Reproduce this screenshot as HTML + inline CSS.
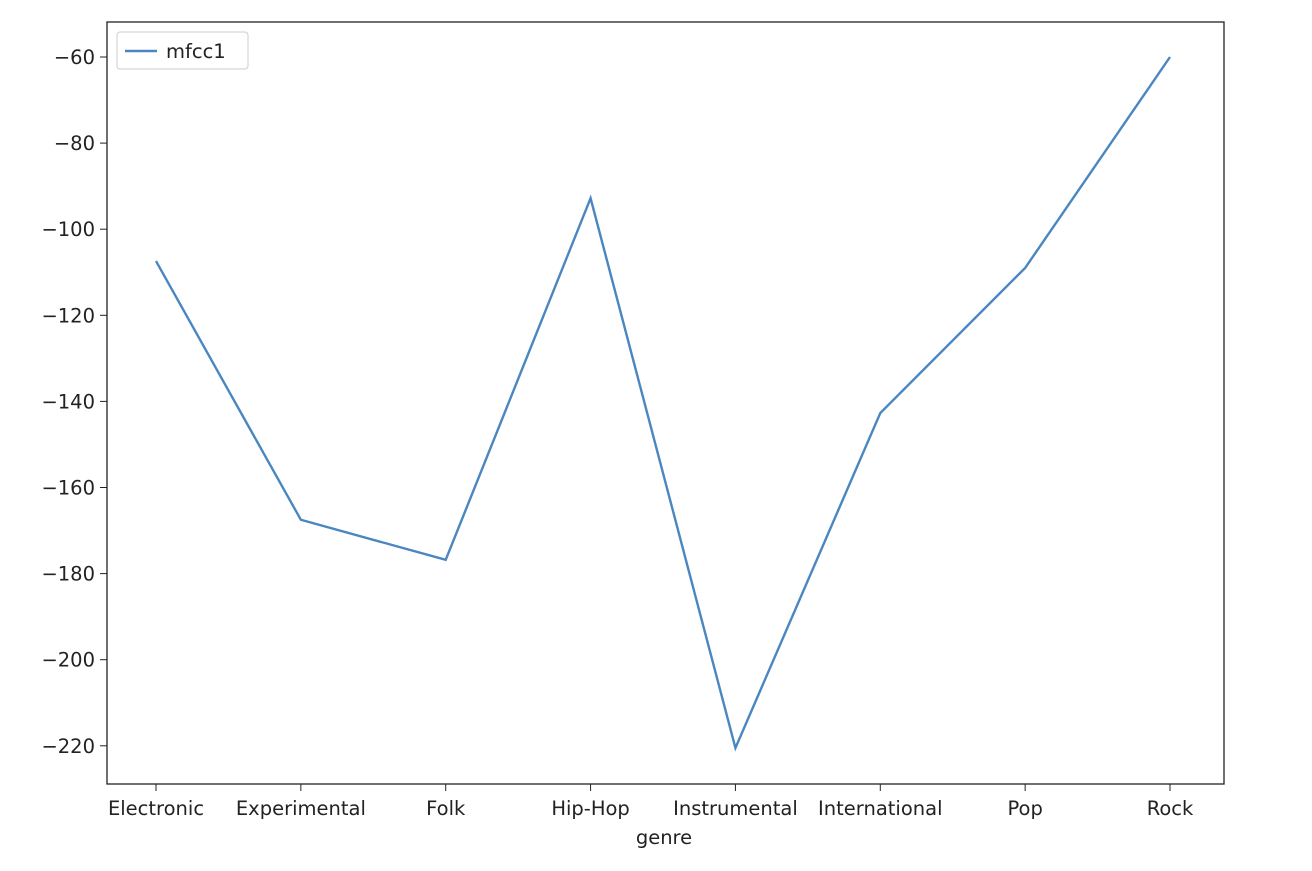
<!DOCTYPE html>
<html><head><meta charset="utf-8"><style>
body{margin:0;background:#fff;}
svg text{font-family:"DejaVu Sans","Liberation Sans",sans-serif;font-size:19.5px;fill:#222;}
</style></head><body>
<svg id="chart" width="1312" height="866" xmlns="http://www.w3.org/2000/svg">
<rect x="0" y="0" width="1312" height="866" fill="#fff"/>
<g id="yticks"></g><g id="xticks"></g>
<polyline id="line" fill="none" stroke="#4a86c0" stroke-width="2.4"/>
<rect x="107" y="22" width="1117" height="762" fill="none" stroke="#222" stroke-width="1.3"/>
<text x="664" y="844" text-anchor="middle">genre</text>
<g>
<rect x="117" y="32" width="131" height="37" rx="3" fill="#fff" stroke="#ccc"/>
<line x1="125" y1="51" x2="157" y2="51" stroke="#4a86c0" stroke-width="2.4"/>
<text x="166" y="58">mfcc1</text>
</g>
</svg>
<script>
const categories=["Electronic","Experimental","Folk","Hip-Hop","Instrumental","International","Pop","Rock"];
const mfcc1=[-107.4,-167.5,-176.8,-92.8,-220.5,-142.7,-109,-60];
const yTicks=[-60,-80,-100,-120,-140,-160,-180,-200,-220];
const NS="http://www.w3.org/2000/svg";
function xS(i){return 156+i*(1170-156)/(categories.length-1);}
function yS(v){return 57+(-60-v)*4.305;}
const yg=document.getElementById('yticks'),xg=document.getElementById('xticks');
yTicks.forEach(t=>{
 const l=document.createElementNS(NS,'line');
 l.setAttribute('x1',100);l.setAttribute('x2',107);l.setAttribute('y1',yS(t));l.setAttribute('y2',yS(t));l.setAttribute('stroke','#222');
 
 
 yg.appendChild(l);
 const tx=document.createElementNS(NS,'text');
 tx.setAttribute('x',95);tx.setAttribute('y',yS(t)+7);tx.setAttribute('text-anchor','end');
 tx.textContent='\u2212'+Math.abs(t);
 
 
 yg.appendChild(tx);
});
categories.forEach((c,i)=>{
 const l=document.createElementNS(NS,'line');
 l.setAttribute('x1',xS(i));l.setAttribute('x2',xS(i));l.setAttribute('y1',784);l.setAttribute('y2',791);l.setAttribute('stroke','#222');
 
 
 xg.appendChild(l);
 const tx=document.createElementNS(NS,'text');
 tx.setAttribute('x',xS(i));tx.setAttribute('y',815);tx.setAttribute('text-anchor','middle');
 tx.textContent=c;
 
 
 xg.appendChild(tx);
});
document.getElementById('line').setAttribute('points',mfcc1.map((v,i)=>xS(i)+','+yS(v)).join(' '));
</script>
</body></html>
